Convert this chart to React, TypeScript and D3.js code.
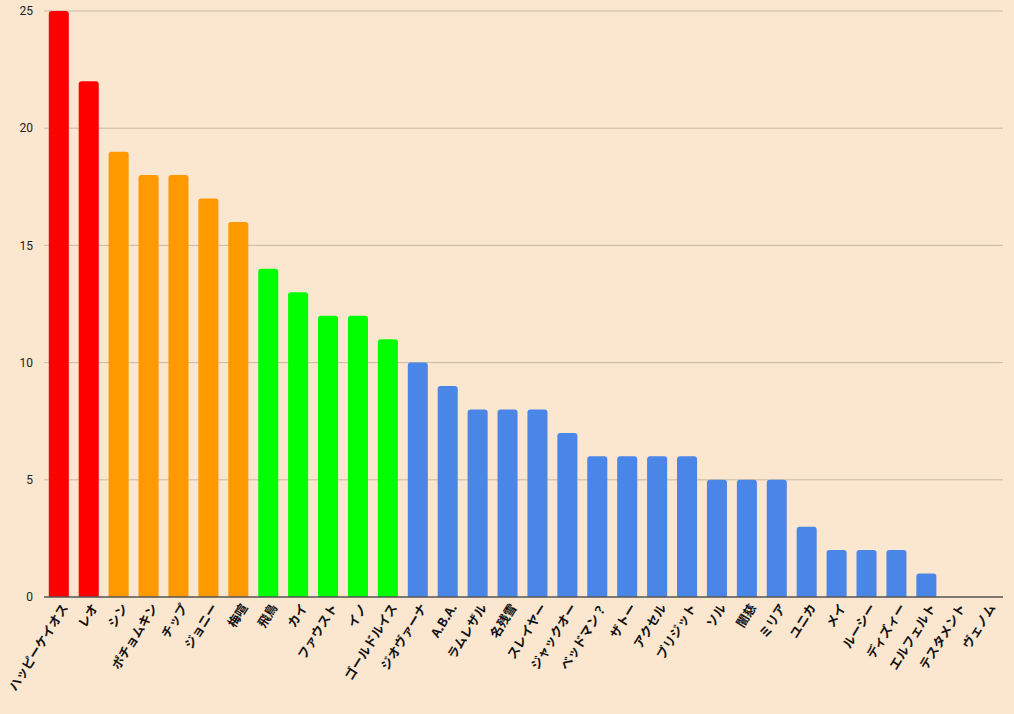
import React from "react";
import * as d3 from "d3";

const names = ["ハッピーケイオス", "レオ", "シン", "ポチョムキン", "チップ", "ジョニー", "梅喧", "飛鳥", "カイ", "ファウスト", "イノ", "ゴールドルイス", "ジオヴァーナ", "A.B.A.", "ラムレザル", "名残雪", "スレイヤー", "ジャックオー", "ベッドマン？", "ザトー", "アクセル", "ブリジット", "ソル", "闇慈", "ミリア", "ユニカ", "メイ", "ルーシー", "ディズィー", "エルフェルト", "テスタメント", "ヴェノム"];
const counts = [25, 22, 19, 18, 18, 17, 16, 14, 13, 12, 12, 11, 10, 9, 8, 8, 8, 7, 6, 6, 6, 6, 5, 5, 5, 3, 2, 2, 2, 1, 0, 0];
const tiers = ["r", "r", "o", "o", "o", "o", "o", "g", "g", "g", "g", "g", "b", "b", "b", "b", "b", "b", "b", "b", "b", "b", "b", "b", "b", "b", "b", "b", "b", "b", "b", "b"];
const tierColors: Record<string, string> = { r: "#ff0000", o: "#ff9900", g: "#00ff00", b: "#4a86e8" };
const yTicks = [0, 5, 10, 15, 20, 25];

export default function App() {
  const W = 1014, H = 714;
  const x = d3.scaleBand<string>().domain(names).range([44, 1001]).paddingInner(0.33).paddingOuter(0.16);
  const y = d3.scaleLinear().domain([0, 25]).range([597, 11]);
  const font = "'Noto Sans CJK JP', sans-serif";
  return (
    <svg width={W} height={H} style={{ position: "absolute", left: 0, top: 0, background: "#fbe6cf" }}>
      <rect width={W} height={H} fill="#fbe6cf" />
      {yTicks.map((t) => (
        <g key={t}>
          {t > 0 && <line x1={44} x2={1003} y1={y(t)} y2={y(t)} stroke="#c8b9a3" strokeWidth={1} />}
          <text x={33} y={y(t)} dy="0.35em" textAnchor="end" fontSize={12} fontFamily="Roboto, sans-serif" fill="#222">{t}</text>
        </g>
      ))}
      {names.map((n, i) => {
        const h = y(0) - y(counts[i]);
        const w = x.bandwidth();
        const x0 = x(n)!;
        const r = Math.min(3, h / 2);
        return counts[i] > 0 ? (
          <path key={n} fill={tierColors[tiers[i]]}
            d={`M${x0},${y(0)}V${y(counts[i]) + r}Q${x0},${y(counts[i])} ${x0 + r},${y(counts[i])}H${x0 + w - r}Q${x0 + w},${y(counts[i])} ${x0 + w},${y(counts[i]) + r}V${y(0)}Z`} />
        ) : null;
      })}
      <line x1={44} x2={1003} y1={y(0)} y2={y(0)} stroke="#555" strokeWidth={1.5} />
      {names.map((n) => {
        const cx = x(n)! + x.bandwidth() / 2 + 6;
        return (
          <text key={n} transform={`translate(${cx},${y(0) + 8}) rotate(-58)`} textAnchor="end" dy="0.35em"
            fontSize={12.5} fontWeight="bold" fontFamily={font} fill="#111">{n}</text>
        );
      })}
    </svg>
  );
}
